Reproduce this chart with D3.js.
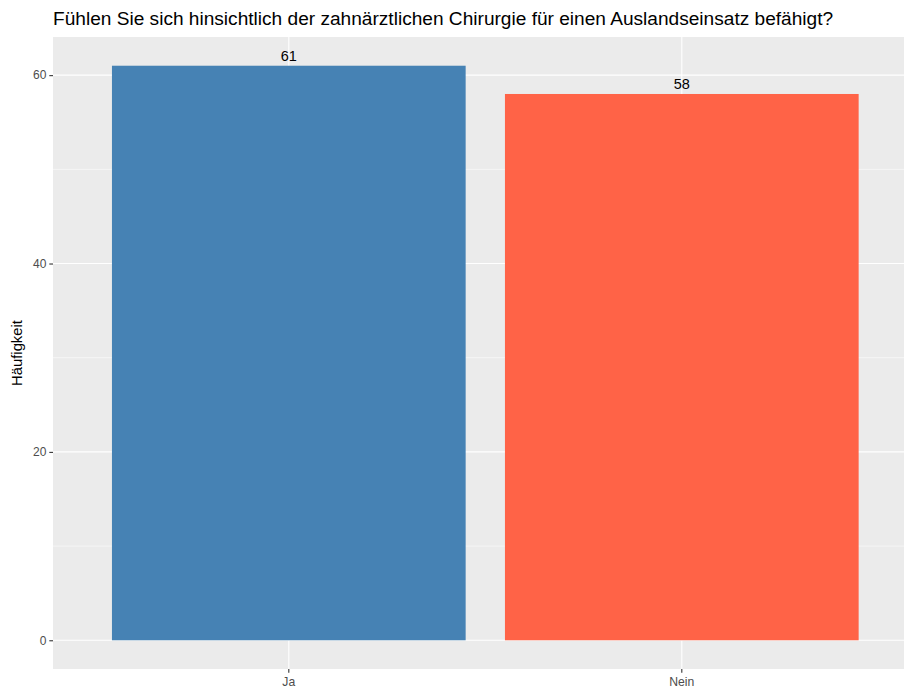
<!DOCTYPE html>
<html><head><meta charset="utf-8">
<script src="https://cdn.jsdelivr.net/npm/d3@7"></script>
<style>body{margin:0;background:#fff}svg{display:block;font-family:"Liberation Sans",Arial,Helvetica,sans-serif}</style>
</head><body>
<svg id="c" width="904" height="689"></svg>
<script>
const categories = ["Ja", "Nein"];
const values = [61, 58];
const colors = ["#4682B4", "#FF6347"];
const yTicks = [0, 20, 40, 60];
const yMinor = [10, 30, 50];
const title = "Fühlen Sie sich hinsichtlich der zahnärztlichen Chirurgie für einen Auslandseinsatz befähigt?";
const yLabel = "Häufigkeit";

const svg = d3.select("#c");
const L = 53, T = 37, B = 669;
const unit = 393;
const R = L + unit * 2.2;

// ggplot-style discrete positions with 0.6 expansion and bar width 0.9
const xc = d3.scaleLinear().domain([0.4, 2.6]).range([L, R]);
const xpos = c => xc(categories.indexOf(c) + 1);
const ymax = d3.max(values) * 1.05;
const y = d3.scaleLinear().domain([-0.05 * d3.max(values), ymax]).range([B, T]);

svg.append("rect").attr("x", L).attr("y", T).attr("width", R - L).attr("height", B - T).attr("fill", "#EBEBEB");

svg.selectAll(".minor").data(yMinor).join("line")
  .attr("x1", L).attr("x2", R).attr("y1", d => y(d)).attr("y2", d => y(d))
  .attr("stroke", "#fff").attr("stroke-width", 0.55);
svg.selectAll(".major").data(yTicks).join("line")
  .attr("x1", L).attr("x2", R).attr("y1", d => y(d)).attr("y2", d => y(d))
  .attr("stroke", "#fff").attr("stroke-width", 1.1);
svg.selectAll(".vmaj").data(categories).join("line")
  .attr("x1", d => xpos(d)).attr("x2", d => xpos(d)).attr("y1", T).attr("y2", B)
  .attr("stroke", "#fff").attr("stroke-width", 1.1);

svg.selectAll(".bar").data(categories).join("rect")
  .attr("x", d => xpos(d) - 0.45 * unit).attr("width", 0.9 * unit)
  .attr("y", (d, i) => y(values[i])).attr("height", (d, i) => y(0) - y(values[i]))
  .attr("fill", (d, i) => colors[i]);

svg.selectAll(".lbl").data(categories).join("text")
  .attr("x", d => xpos(d)).attr("y", (d, i) => y(values[i]) - 5)
  .attr("text-anchor", "middle").attr("font-size", 14.5).attr("fill", "#000")
  .text((d, i) => values[i]);

// y axis
const yAxis = svg.append("g").attr("transform", `translate(${L},0)`)
  .call(d3.axisLeft(y).tickValues(yTicks).tickSize(3.7).tickPadding(3));
yAxis.select(".domain").remove();
yAxis.selectAll("line").attr("stroke", "#333").attr("stroke-width", 1.1);
yAxis.attr("font-family", null).attr("font-size", 12);
yAxis.selectAll("text").attr("fill", "#4D4D4D").attr("font-size", 12);

// x axis
const xAxis = svg.append("g").attr("transform", `translate(0,${B})`);
xAxis.selectAll("line").data(categories).join("line")
  .attr("x1", d => xpos(d)).attr("x2", d => xpos(d)).attr("y1", 0).attr("y2", 3.7)
  .attr("stroke", "#333").attr("stroke-width", 1.1);
xAxis.selectAll("text").data(categories).join("text")
  .attr("x", d => xpos(d)).attr("y", 17).attr("text-anchor", "middle")
  .attr("fill", "#4D4D4D").attr("font-size", 12.2).text(d => d);

svg.append("text").attr("transform", `translate(22,${(T + B) / 2}) rotate(-90)`)
  .attr("text-anchor", "middle").attr("font-size", 14.8).attr("fill", "#000").text(yLabel);

svg.append("text").attr("x", L).attr("y", 24.5).attr("font-size", 19.1).attr("fill", "#000").text(title);
</script>
</body></html>
